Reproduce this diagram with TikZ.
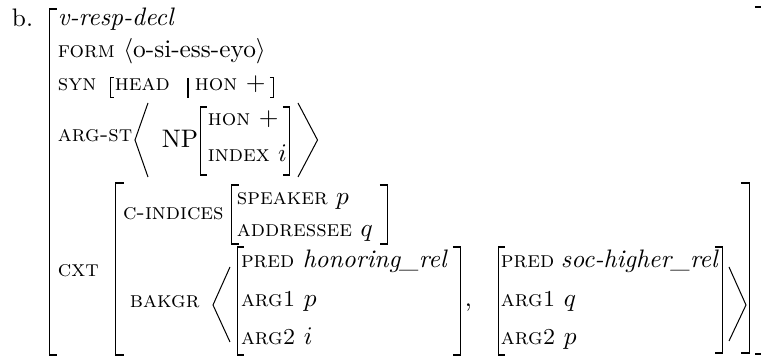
\documentclass[tikz,border=0pt]{standalone}
\newcommand{\featsc}[1]{{\fontsize{9}{11}\selectfont\textsc{#1}}}
\begin{document}
\begin{tikzpicture}[x=0.395pt,y=-0.395pt,
  txt/.style={anchor=base west,inner sep=0pt,outer sep=0pt},
  brk/.style={line width=0.6pt},
  thinbrk/.style={line width=0.4pt},
  ang/.style={line width=0.4pt,line join=miter}]
\useasboundingbox (0,0) rectangle (761,358);
% label
\node[txt] (b) at (12,27) {b.};
% outer brackets
\draw[brk] (57,9) -- (49.5,9) -- (49.5,355) -- (57,355);
\draw[brk] (755,7) -- (762.8,7) -- (762.8,354) -- (755,354);
% type
\node[txt] (type) at (58,26) {\textit{v-resp-decl}};
% FORM
\node[txt] (form) at (58,58) {\featsc{form} $\langle$o-si-ess-eyo$\rangle$};
% SYN
\node[txt] (syn) at (58,91) {\featsc{syn}};
\draw[thinbrk] (114,78) -- (110.5,78) -- (110.5,98) -- (114,98);
\node[txt] (head) at (115,91) {\featsc{head}};
\draw[thinbrk] (188,78) -- (188,98);
\node[txt] (hon1) at (195,91) {\featsc{hon} $+$};
\draw[thinbrk] (270,78) -- (273.5,78) -- (273.5,98) -- (270,98);
% ARG-ST
\node[txt] (argst) at (58,142) {\featsc{arg-st}};
\draw[ang] (148,103) -- (135,140) -- (148,177);
\node[txt] (np) at (162,148) {NP};
\draw[brk] (207,107) -- (200.5,107) -- (200.5,175) -- (207,175);
\node[txt] (hon2) at (208,126) {\featsc{hon} $+$};
\node[txt] (index) at (208,162) {\featsc{index} $i$};
\draw[brk] (283,107) -- (289.5,107) -- (289.5,175) -- (283,175);
\draw[ang] (298,103) -- (317.5,140) -- (298,177);
% CXT
\node[txt] (cxt) at (58,277) {\featsc{cxt}};
\draw[brk] (124,183) -- (115.5,183) -- (115.5,355) -- (124,355);
\draw[brk] (741,183) -- (749.5,183) -- (749.5,353) -- (741,353);
% C-INDICES
\node[txt] (cind) at (123,220) {\featsc{c-indices}};
\draw[brk] (239,185) -- (231.5,185) -- (231.5,244) -- (239,244);
\node[txt] (spk) at (237,205) {\featsc{speaker} $p$};
\node[txt] (adr) at (237,237) {\featsc{addressee} $q$};
\draw[brk] (380,185) -- (387.5,185) -- (387.5,244) -- (380,244);
% BAKGR
\node[txt] (bakgr) at (130,308) {\featsc{bakgr}};
\draw[ang] (230,267) -- (213,305) -- (230,342);
\draw[brk] (244,247) -- (237.5,247) -- (237.5,355) -- (244,355);
\node[txt] (pred1) at (241,268) {\featsc{pred} \textit{honoring\_rel}};
\node[txt] (a11) at (241,307) {\featsc{arg1} $p$};
\node[txt] (a21) at (241,345) {\featsc{arg2} $i$};
\draw[brk] (453,247) -- (460.5,247) -- (460.5,355) -- (453,355);
\node[txt] (comma) at (465,307) {,};
\draw[brk] (505,247) -- (498.5,247) -- (498.5,355) -- (505,355);
\node[txt] (pred2) at (501,268) {\featsc{pred}\hspace{2.6pt}\textit{soc-higher\_rel}};
\node[txt] (a12) at (501,307) {\featsc{arg1} $q$};
\node[txt] (a22) at (501,345) {\featsc{arg2} $p$};
\draw[brk] (715,247) -- (722.5,247) -- (722.5,353) -- (715,353);
\draw[ang] (729,267) -- (746,305) -- (729,341);
\end{tikzpicture}
\end{document}
